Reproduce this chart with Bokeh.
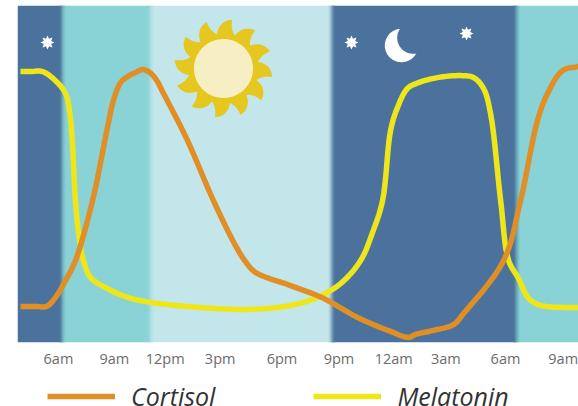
import numpy as np
from bokeh.plotting import figure
from bokeh.layouts import column
from bokeh.models import FixedTicker, Legend, LegendItem, Range1d
from bokeh.embed import file_html
from bokeh.resources import INLINE

cortisol_hours = [3.96,4.77,5.36,5.84,6.38,6.91,7.83,8.63,8.95,9.33,9.71,10.13,10.51,10.83,11.21,11.64,12.93,14.32,15.5,16.04,16.58,18.46,20.23,22.06,23.83,24.8,25.17,26.14,27.21,27.75,29.9,30.81,31.72,32.26,33.07,33.92]
cortisol_level = [10.7,10.7,10.7,13.4,18.4,24.3,42.1,63.8,71.8,77.1,78.9,80.1,81,80.4,78.3,73.9,59.9,42.1,28.8,24,20.8,16.9,13.1,7.4,3.3,1.5,2.4,3.6,5.3,8.6,24.3,42.1,65.9,73.9,80.7,81.9]
melatonin_hours = [3.96,4.5,5.14,5.84,6.38,6.59,6.75,6.91,7.13,7.34,7.72,8.63,9.71,10.94,13.63,16.15,18.46,19.91,21.15,22.22,22.86,23.4,23.83,24.2,24.74,25.33,26.35,27.59,28.29,28.82,29.2,29.74,30.17,30.7,31.24,31.89,33.12,33.92]
melatonin_level = [80.4,80.4,80.4,77.7,73.9,68.8,59,42.1,30.3,24.3,19.3,16,13.4,11.9,10.4,9.8,11,13.4,17.5,24.3,32.6,42.1,62.9,69.7,75.4,77.1,78.6,79.2,78.6,75.4,67.9,42.1,24.3,19,13.1,11,10.4,10.4]
tick_hours = [6, 9, 11.73, 14.68, 18, 21.06, 24, 26.8, 30, 33.1]
tick_labels = ["6am", "9am", "12pm", "3pm", "6pm", "9pm", "12am", "3am", "6am", "9am"]
band_edges = [3.8, 6.21, 10.94, 20.66, 30.6, 33.92]
band_colors = ["#4A729C", "#89D3D6", "#C3E6EA", "#4A729C", "#89D3D6"]

X0, X1 = 3.8, 33.92
FW, FH = 561, 337
PXH = (X1 - X0) / FW
PYL = 100 / FH

p = figure(width=578, height=368, frame_width=FW, frame_height=FH, output_backend="svg",
           toolbar_location=None, x_range=Range1d(X0, X1), y_range=Range1d(0, 100),
           min_border_left=17, min_border_right=0, min_border_top=5, min_border_bottom=0,
           outline_line_color=None, background_fill_color=None, border_fill_color=None)
p.grid.visible = False
p.yaxis.visible = False
ax = p.xaxis[0]
ax.ticker = FixedTicker(ticks=tick_hours)
ax.major_label_overrides = {t: l for t, l in zip(tick_hours, tick_labels)}
ax.axis_line_color = None
ax.major_tick_line_color = None
ax.minor_tick_line_color = None
ax.major_tick_in = 0
ax.major_tick_out = 0
ax.major_label_standoff = 6
ax.major_label_text_font = "Open Sans"
ax.major_label_text_font_size = "14.5px"
ax.major_label_text_color = "#6b6b6b"

p.quad(left=band_edges[:-1], right=band_edges[1:], bottom=0, top=100, fill_color=band_colors, line_color=None)

def rgb(c):
    return np.array([int(c[i:i+2], 16) for i in (1, 3, 5)], float)
for i in range(1, len(band_colors)):
    e = band_edges[i]
    a, b = rgb(band_colors[i-1]), rgb(band_colors[i])
    n = 6
    for k in range(n):
        t = (k + .5) / n
        c = a + (b - a) * t
        p.quad(left=e + (k - n/2) * PXH, right=e + (k + 1 - n/2) * PXH + PXH*.3, bottom=0, top=100,
               fill_color="#%02x%02x%02x" % tuple(int(v) for v in c), line_color=None)

def hx(px):
    return X0 + (px - 17) * PXH
def ly(py):
    return 100 - (py - 5) * PYL

def polar(r, a):
    return np.array([r * np.cos(a), r * np.sin(a)])
def bez(p0, p1, p2, t):
    return (1-t)**2 * p0 + 2*t*(1-t) * p1 + t*t * p2

# sun
cx, cy = 223, 68
tips = np.radians(110 - 30 * np.arange(12))
sx, sy = [], []
d = np.radians
for a in tips:
    vprev = a + d(21)
    vnext = a - d(9)
    for t in np.linspace(0, 1, 14):
        q_ = bez(polar(35, vprev), polar(48, a + d(15)), polar(49.5, a), t)
        sx.append(cx + q_[0]); sy.append(cy - q_[1])
    for t in np.linspace(0, 1, 8)[1:-1]:
        q_ = bez(polar(49.5, a), polar(40, a - d(0)), polar(35, vnext), t)
        sx.append(cx + q_[0]); sy.append(cy - q_[1])
p.patch([hx(v) for v in sx], [ly(v) for v in sy], fill_color="#E5C71F", line_color=None)
th = np.linspace(0, 2*np.pi, 80)
p.patch(hx(cx + 29.5*np.cos(th)), ly(cy + 29.5*np.sin(th)), fill_color="#F6EFC4", line_color=None)

# stars
for (scx, scy) in [(47, 42), (351, 42), (466, 33)]:
    ang = np.arange(16) * np.pi / 8
    r = np.where(np.arange(16) % 2 == 0, 7, 4)
    p.patch(hx(scx + r*np.cos(ang)), ly(scy + r*np.sin(ang)), fill_color="white", line_color=None)

# moon
p.patch(hx(401 + 16.7*np.cos(th)), ly(45 + 16.7*np.sin(th)), fill_color="white", line_color=None)
p.patch(hx(412.7 + 16*np.cos(th)), ly(37.3 + 16*np.sin(th)), fill_color="#4A729C", line_color=None)

def smooth(hours, level, n=8):
    """Centripetal Catmull-Rom through the read points, for drawing only."""
    P = np.column_stack([np.array(hours) / PXH, np.array(level) / PYL])
    P = np.vstack([2*P[0]-P[1], P, 2*P[-1]-P[-2]])
    out = []
    for i in range(1, len(P) - 2):
        p0, p1, p2, p3 = P[i-1], P[i], P[i+1], P[i+2]
        t0 = 0.0
        t1 = t0 + np.linalg.norm(p1-p0)**.5
        t2 = t1 + np.linalg.norm(p2-p1)**.5
        t3 = t2 + np.linalg.norm(p3-p2)**.5
        for t in np.linspace(t1, t2, n, endpoint=False):
            a1 = (t1-t)/(t1-t0)*p0 + (t-t0)/(t1-t0)*p1
            a2 = (t2-t)/(t2-t1)*p1 + (t-t1)/(t2-t1)*p2
            a3 = (t3-t)/(t3-t2)*p2 + (t-t2)/(t3-t2)*p3
            b1 = (t2-t)/(t2-t0)*a1 + (t-t0)/(t2-t0)*a2
            b2 = (t3-t)/(t3-t1)*a2 + (t-t1)/(t3-t1)*a3
            out.append((t2-t)/(t2-t1)*b1 + (t-t1)/(t2-t1)*b2)
    out.append(P[-2])
    out = np.array(out)
    return out[:, 0] * PXH, out[:, 1] * PYL

orange, yellow = "#DF8F26", "#EFE61A"
mx, my = smooth(melatonin_hours, melatonin_level)
cx2, cy2 = smooth(cortisol_hours, cortisol_level)
p.line(mx, my, line_color=yellow, line_width=5.5, line_join="round")
p.line(cx2, cy2, line_color=orange, line_width=5.5, line_join="round")

# legend strip below the chart: its two lines lie outside the strip's visible range
q = figure(width=578, height=38, output_backend="svg", toolbar_location=None,
           x_axis_location=None, y_axis_location=None,
           min_border_left=0, min_border_right=0, min_border_top=0, min_border_bottom=0,
           outline_line_color=None, background_fill_color=None, border_fill_color=None,
           x_range=Range1d(0, 1), y_range=Range1d(0, 1))
q.grid.visible = False
lc = q.line([-2, -1], [-2, -1], line_color=orange, line_width=5.5)
lm = q.line([-2, -1], [-2, -1], line_color=yellow, line_width=5.5)
legend = Legend(items=[LegendItem(label="Cortisol", renderers=[lc]), LegendItem(label="Melatonin", renderers=[lm])],
                orientation="horizontal", location=(30, -5), glyph_width=68, glyph_height=26,
                label_standoff=16, spacing=98, padding=0, margin=0,
                background_fill_alpha=0, border_line_color=None,
                label_text_font="Open Sans", label_text_font_style="italic",
                label_text_font_size="25px", label_text_color="#333333")
q.add_layout(legend, "center")

page = column(p, q, spacing=0)
open("out.html", "w").write(file_html(page, INLINE))
